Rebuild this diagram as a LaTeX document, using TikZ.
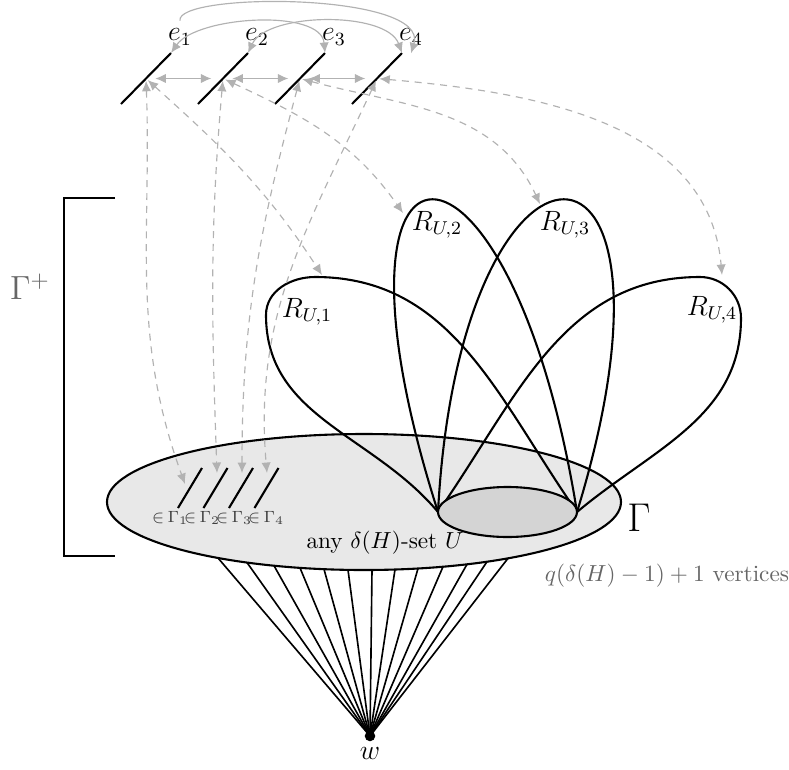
\documentclass[tikz,border=0pt]{standalone}
\usepackage{amsmath,amssymb}
\usetikzlibrary{arrows.meta,calc}

\begin{document}
\begin{tikzpicture}[x=0.43pt, y=-0.43pt,
    line/.style={line width=0.9pt},
    ray/.style={line width=0.7pt},
    arc/.style={draw=black!30, line width=0.5pt},
    link/.style={arc, {Latex[length=4.5pt,width=4pt]}-{Latex[length=4.5pt,width=4pt]}},
    hop/.style={link, dash pattern=on 3pt off 2.5pt, shorten <=1pt},
    note/.style={text=black!60}]
  \useasboundingbox (0,0) rectangle (789,770);
  \draw[line, fill=black!9] (364,502) ellipse [x radius=257, y radius=68];
  \coordinate (L) at (438,512);
  \coordinate (R) at (577,512);
  \node[circle, fill, inner sep=1.6pt] (w) at (370,736) {};
  \node[font=\large, below=-1pt] (wl) at (w.south) {$w$};
  \foreach \x in {218,247,274,300,324,348,372,395,418,443,467,487,508} {
    \coordinate (f) at (\x, {502+68*sqrt(1-((\x-364)/257)^2)});
    \draw[ray] (w.center) -- (f);
  }
  \draw[line] (L) to[out=130, in=-90] (266,315) to[out=90, in=180] (315,277) to[out=0, in=125] (R);
  \draw[line] (L) .. controls (305,95) and (510,95) .. (R);
  \draw[line] (L) .. controls (460,95) and (705,95) .. (R);
  \draw[line] (R) to[out=40, in=-90] (741,318) to[out=90, in=0] (700,277) to[out=180, in=55] (L);
  \draw[line, fill=black!17] (507.5,512) ellipse [x radius=69.5, y radius=25];
  \node[font=\large] (ru1) at (307,312) {$R_{U,1}$};
  \node[font=\large] (ru2) at (437,225) {$R_{U,2}$};
  \node[font=\large] (ru3) at (565,225) {$R_{U,3}$};
  \node[font=\large] (ru4) at (712,310) {$R_{U,4}$};
  \node[font=\LARGE] (gam) at (639,518) {$\Gamma$};
  \node (uset) at (385,543) {any $\delta(H)$-set $U$};
  \node[note] (size) at (667,576) {$q(\delta(H)-1)+1$ vertices};
  \node[note, font=\Large] (gplus) at (30,287) {$\Gamma^+$};
  \draw[line] (115,198) -- (64,198) -- (64,556) -- (115,556);
  \foreach \i in {1,...,4} {
    \coordinate (b\i) at ({121+77*(\i-1)},104);
    \coordinate (t\i) at ({171+77*(\i-1)},53);
    \coordinate (m\i) at ($(b\i)!0.5!(t\i)$);
    \draw[line] (b\i) -- (t\i);
    \node[font=\large] (e\i) at ({180+77*(\i-1)},37) {$e_{\i}$};
    \coordinate (sb\i) at ({178+25.5*(\i-1)},508);
    \coordinate (st\i) at ({202+25.5*(\i-1)},468);
    \draw[line] (sb\i) -- (st\i);
    \node[font=\scriptsize, text=black!75, inner sep=0pt] (in\i) at ({170+32*(\i-1)},518) {$\mathord{\in}\,\Gamma_{\i}$};
  }
  \coordinate (g1) at (185,484);
  \coordinate (g2) at (217,473);
  \coordinate (g3) at (242,473);
  \coordinate (g4) at (267,473);
  \coordinate (r1) at (322,275);
  \coordinate (r2) at (403,213);
  \coordinate (r3) at (540,204);
  \coordinate (r4) at (722,275);
  \draw[link] (t1) to[out=55, in=95, looseness=0.75] (t3);
  \draw[link] (t2) to[out=65, in=110, looseness=0.75] (t4);
  \draw[arc, -{Latex[length=4.5pt,width=4pt]}] (e1.north) .. controls (175,-8) and (430,-8) .. (e4.south);
  \foreach \i/\j in {1/2,2/3,3/4}
    \draw[link, shorten <=4pt, shorten >=5pt] (m\i) -- (m\j);
  \draw[hop] (m1) to[out=-88, in=110] (g1);
  \draw[hop] (m2) to[out=-95, in=92] (g2);
  \draw[hop] (m3) to[out=-105, in=90] (g3);
  \draw[hop] (m4) to[out=-115, in=95] (g4);
  \draw[hop] (m1) to[out=-42, in=123] (r1);
  \draw[hop] (m2) to[out=-25, in=125] (r2);
  \draw[hop] (m3) to[out=-15, in=115] (r3);
  \draw[hop] (m4) to[out=-5, in=95] (r4);
\end{tikzpicture}
\end{document}
